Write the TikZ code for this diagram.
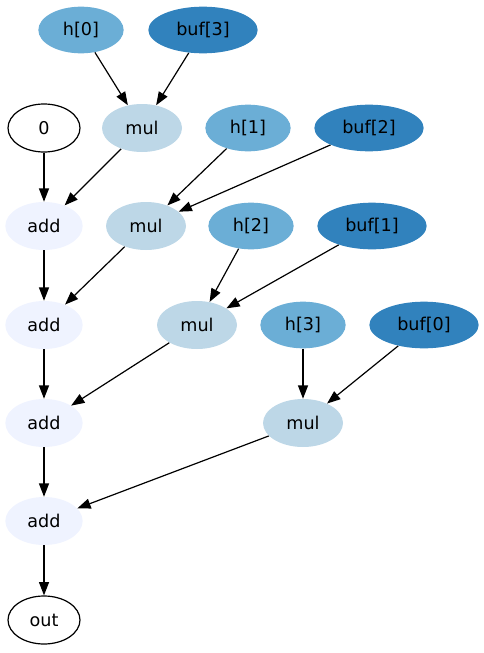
\documentclass[tikz,border=0pt]{standalone}
\usepackage{fontspec}
\setmainfont{DejaVu Sans}
\usepackage{tikz}
\usetikzlibrary{shapes.geometric,arrows.meta}
\pgfdeclarelayer{edgelayer}
\pgfdeclarelayer{nodelayer}
\pgfsetlayers{edgelayer,nodelayer,main}
\definecolor{bluea}{HTML}{EFF3FF}
\definecolor{blueb}{HTML}{BDD7E7}
\definecolor{bluec}{HTML}{6BAED6}
\definecolor{blued}{HTML}{3182BD}
\tikzstyle{edge}=[draw=black, line width=0.9pt, -{Triangle[length=10pt,width=7.5pt]}]
\tikzstyle{vertex}=[ellipse, inner sep=0pt, minimum height=36pt, font=\fontsize{13.2}{15}\selectfont]
\tikzstyle{term}=[vertex, draw=black, line width=0.9pt, fill=white, minimum width=54pt]
\tikzstyle{coef}=[vertex, fill=bluec, minimum width=64pt, minimum height=35pt]
\tikzstyle{sample}=[vertex, fill=blued, minimum width=82pt, minimum height=35pt]
\tikzstyle{prod}=[vertex, fill=blueb, minimum width=60pt]
\tikzstyle{acc}=[vertex, fill=bluea, minimum width=58pt]

\begin{document}
\begin{tikzpicture}[x=0.75pt, y=-0.75pt]
			\useasboundingbox (0, 0) rectangle (484, 653);
			\begin{pgfonlayer}{nodelayer}
				\node [style=coef] (h0) at (81, 30) {h[0]};
				\node [style=sample] (b3) at (203, 30) {buf[3]};
				\node [style=term] (zero) at (44, 128) {0};
				\node [style=prod] (m1) at (142, 128) {mul};
				\node [style=coef] (h1) at (248, 128) {h[1]};
				\node [style=sample] (b2) at (369, 128) {buf[2]};
				\node [style=acc] (a1) at (44, 226) {add};
				\node [style=prod] (m2) at (146, 226) {mul};
				\node [style=coef] (h2) at (251, 226) {h[2]};
				\node [style=sample] (b1) at (372, 226) {buf[1]};
				\node [style=acc] (a2) at (44, 325) {add};
				\node [style=prod] (m3) at (197, 325) {mul};
				\node [style=coef] (h3) at (303, 325) {h[3]};
				\node [style=sample] (b0) at (424, 325) {buf[0]};
				\node [style=acc] (a3) at (44, 423) {add};
				\node [style=prod] (m4) at (303, 423) {mul};
				\node [style=acc] (a4) at (44, 521) {add};
				\node [style=term] (out) at (44, 620) {out};
			\end{pgfonlayer}
			\begin{pgfonlayer}{edgelayer}
				\draw [style=edge] (h0) to (m1);
				\draw [style=edge] (b3) to (m1);
				\draw [style=edge] (zero) to (a1);
				\draw [style=edge] (m1) to (a1);
				\draw [style=edge] (h1) to (m2);
				\draw [style=edge] (b2) to (m2);
				\draw [style=edge] (a1) to (a2);
				\draw [style=edge] (m2) to (a2);
				\draw [style=edge] (h2) to (m3);
				\draw [style=edge] (b1) to (m3);
				\draw [style=edge] (a2) to (a3);
				\draw [style=edge] (m3) to (a3);
				\draw [style=edge] (h3) to (m4);
				\draw [style=edge] (b0) to (m4);
				\draw [style=edge] (a3) to (a4);
				\draw [style=edge] (m4) to (a4);
				\draw [style=edge] (a4) to (out);
			\end{pgfonlayer}
		\end{tikzpicture}
\end{document}
